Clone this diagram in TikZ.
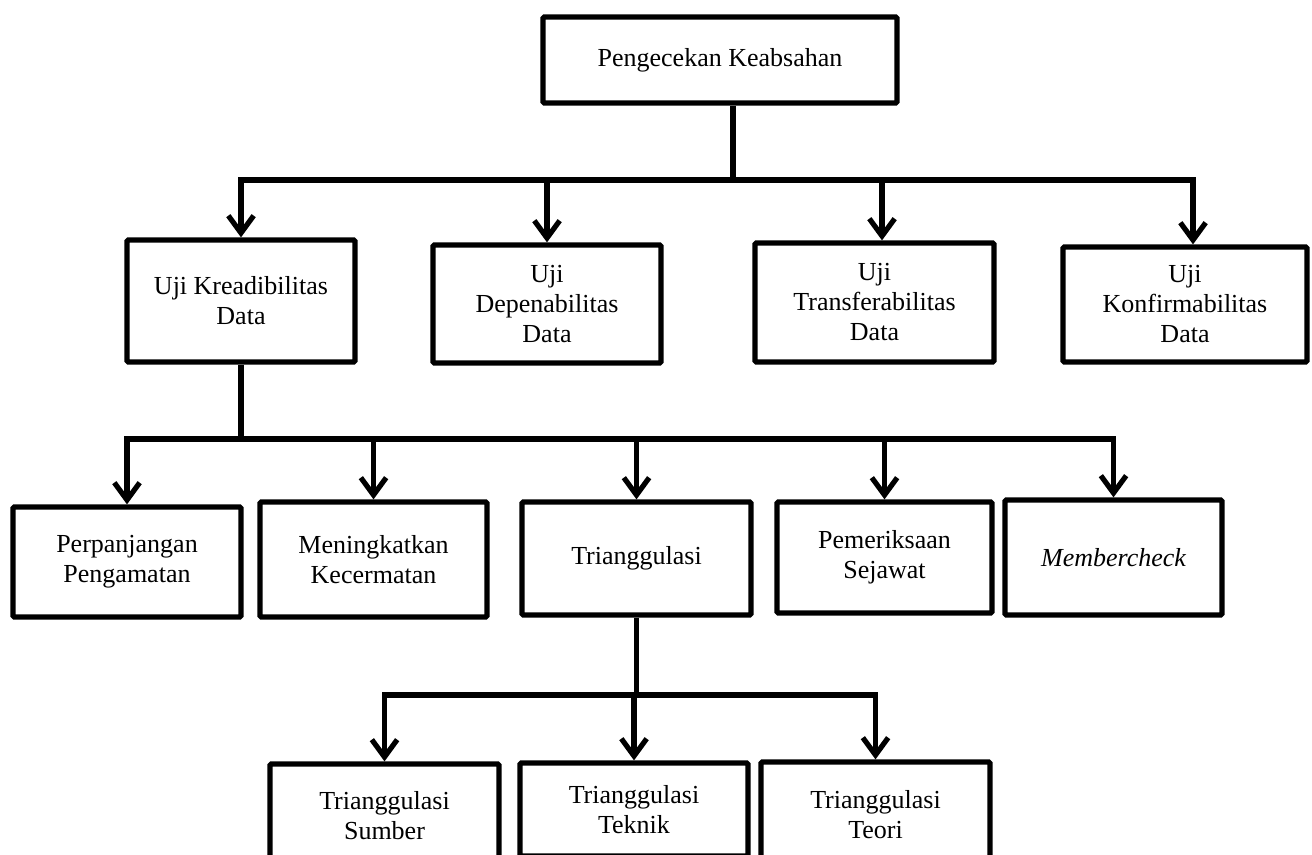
\documentclass[tikz,border=0pt]{standalone}
\usepackage{fontspec}
\setmainfont{Liberation Serif}
\usepackage{tikz}
\usetikzlibrary{arrows.meta}

\begin{document}
\begin{tikzpicture}[x=0.75pt, y=-0.75pt,
    box/.style={draw, line width=3.9pt, rounded corners=1pt, inner sep=0pt,
        align=center, font=\fontsize{19.5}{22.5}\selectfont},
    sz/.style 2 args={minimum width=#1*0.75pt, minimum height=#2*0.75pt},
    arr/.style={line width=3.9pt, -{Straight Barb[length=13pt, width=19pt]}}]
    \useasboundingbox (0,0) rectangle (1312,855);
    \clip (0,0) rectangle (1312,855);

    % Top
    \node[box, sz={354}{86}] (keabsahan) at (720,60) {Pengecekan Keabsahan};

    % Four tests
    \node[box, sz={228}{122}] (kred) at (241,301) {Uji Kreadibilitas\\Data};
    \node[box, sz={228}{118}] (dep) at (547,304) {Uji\\Depenabilitas\\Data};
    \node[box, sz={239}{119}] (trans) at (874.5,302.5) {Uji\\Transferabilitas\\Data};
    \node[box, sz={244}{115}] (konf) at (1185,304.5) {Uji\\Konfirmabilitas\\Data};

    \coordinate (bus1) at (733,180);
    \coordinate (bus1t) at (882,180);
    \coordinate (bus1r) at (1193,180);
    \draw[arr] (keabsahan.south -| bus1) -- (bus1) -| (kred.north);
    \draw[arr] (bus1) -- (bus1r) -- (konf.north -| bus1r);
    \draw[arr] (dep.north |- bus1) -- (dep.north);
    \draw[arr] (bus1t) -- (trans.north -| bus1t);

    % Credibility
    \node[box, sz={228}{110}] (perp) at (127,562) {Perpanjangan\\Pengamatan};
    \node[box, sz={227}{115}] (men) at (373.5,559.5) {Meningkatkan\\Kecermatan};
    \node[box, sz={229}{113}] (tri) at (636.5,558.5) {Trianggulasi};
    \node[box, sz={215}{111}] (pem) at (884.5,557.5) {Pemeriksaan\\Sejawat};
    \node[box, sz={217}{115}] (mem) at (1113.5,557.5) {\itshape Membercheck};

    \coordinate (bus2) at (241,439);
    \draw[arr] (kred.south) -- (bus2) -| (perp.north);
    \draw[arr] (bus2) -| (mem.north);
    \foreach \n in {men, tri, pem}
        \draw[arr] (\n.north |- bus2) -- (\n.north);

    % Triangulation
    \node[box, sz={229}{104}] (sumber) at (384.5,816) {Trianggulasi\\Sumber};
    \node[box, sz={228}{93}] (teknik) at (634,809.5) {Trianggulasi\\Teknik};
    \node[box, sz={229}{106}] (teori) at (875.5,815) {Trianggulasi\\Teori};

    \coordinate (bus3) at (636.5,695);
    \draw[arr] (tri.south) -- (bus3) -| (sumber.north);
    \draw[arr] (bus3) -| (teori.north);
    \draw[arr] (teknik.north |- bus3) -- (teknik.north);
\end{tikzpicture}
\end{document}
